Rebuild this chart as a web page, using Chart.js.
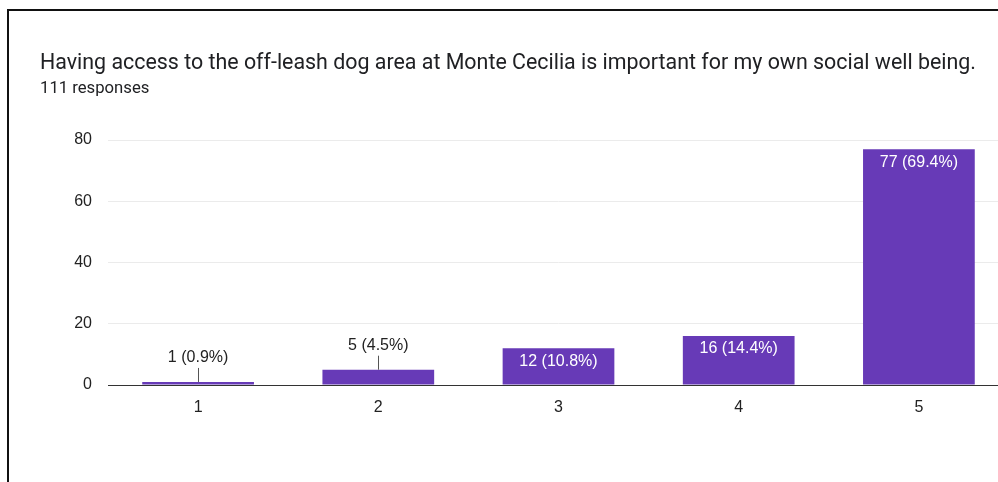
<!DOCTYPE html>
<html>
<head>
<meta charset="utf-8">
<script src="https://cdn.jsdelivr.net/npm/chart.js@4"></script>
<style>
  html, body { margin: 0; padding: 0; background: #fff; overflow: hidden; width: 998px; height: 482px; }
  #frame { position: absolute; left: 7px; top: 9px; width: 1000px; height: 480px; border-top: 2px solid #111; border-left: 2px solid #111; }
  #title { position: absolute; left: 40px; top: 49px; font-family: Roboto, sans-serif; font-size: 21.4px; color: #202124; white-space: nowrap; }
  #sub { position: absolute; left: 40px; top: 78px; font-family: Roboto, sans-serif; font-size: 16.7px; color: #202124; }
  #wrap { position: absolute; left: 0; top: 0; width: 1020px; height: 482px; }
</style>
</head>
<body>
<div id="wrap"><canvas id="myChart" width="1020" height="482"></canvas></div>
<div id="frame"></div>
<div id="title">Having access to the off-leash dog area at Monte Cecilia is important for my own social well being.</div>
<div id="sub">111 responses</div>
<script>
var categories = ["1", "2", "3", "4", "5"]; // rating scale
var counts = [1, 5, 12, 16, 77]; // responses per rating
var percents = ["0.9%", "4.5%", "10.8%", "14.4%", "69.4%"]; // as shown on the bars
var yTicks = [0, 20, 40, 60, 80];

var barColor = '#673ab7';
var tickFont = { family: 'Liberation Sans, Arial, sans-serif', size: 16 };

// draws "n (p%)" labels: inside the bar when it is tall enough, else above with a small leader line
var barLabels = {
  id: 'barLabels',
  afterDatasetsDraw: function(chart) {
    var c = chart.ctx;
    var meta = chart.getDatasetMeta(0);
    c.save();
    c.font = '16px Liberation Sans, Arial, sans-serif';
    c.textAlign = 'center';
    c.textBaseline = 'middle';
    meta.data.forEach(function(bar, i) {
      var txt = counts[i] + ' (' + percents[i] + ')';
      var h = bar.base - bar.y;
      if (h > 25) {
        c.fillStyle = '#ffffff';
        c.fillText(txt, bar.x, bar.y + 13);
      } else {
        c.strokeStyle = '#555';
        c.lineWidth = 1;
        c.beginPath();
        c.moveTo(Math.round(bar.x) + 0.5, bar.y);
        c.lineTo(Math.round(bar.x) + 0.5, bar.y - 14);
        c.stroke();
        c.fillStyle = '#222';
        c.fillText(txt, bar.x, bar.y - 24);
      }
    });
    c.restore();
  }
};

var ctx = document.getElementById('myChart').getContext('2d');
var chart = new Chart(ctx, {
  type: 'bar',
  data: {
    labels: categories,
    datasets: [{
      data: counts,
      backgroundColor: barColor,
      borderWidth: 0,
      barPercentage: 0.62,
      categoryPercentage: 1.0
    }]
  },
  options: {
    responsive: false,
    animation: false,
    layout: { padding: { left: 0, right: 11, top: 140, bottom: 0 } },
    plugins: { legend: { display: false }, tooltip: { enabled: false } },
    scales: {
      x: {
        grid: { display: false, drawTicks: false },
        border: { display: true, color: '#333', width: 1 },
        ticks: { color: '#222', font: tickFont, padding: 13 },
        afterFit: function(s) { s.height = 97; }
      },
      y: {
        min: 0,
        max: 80,
        afterBuildTicks: function(s) { s.ticks = yTicks.map(function(v) { return { value: v }; }); },
        grid: { color: '#ebebeb', drawTicks: false },
        border: { display: false },
        ticks: { color: '#222', font: tickFont, padding: 16 },
        afterFit: function(s) { s.width = 108; }
      }
    }
  },
  plugins: [barLabels]
});
</script>
</body>
</html>
